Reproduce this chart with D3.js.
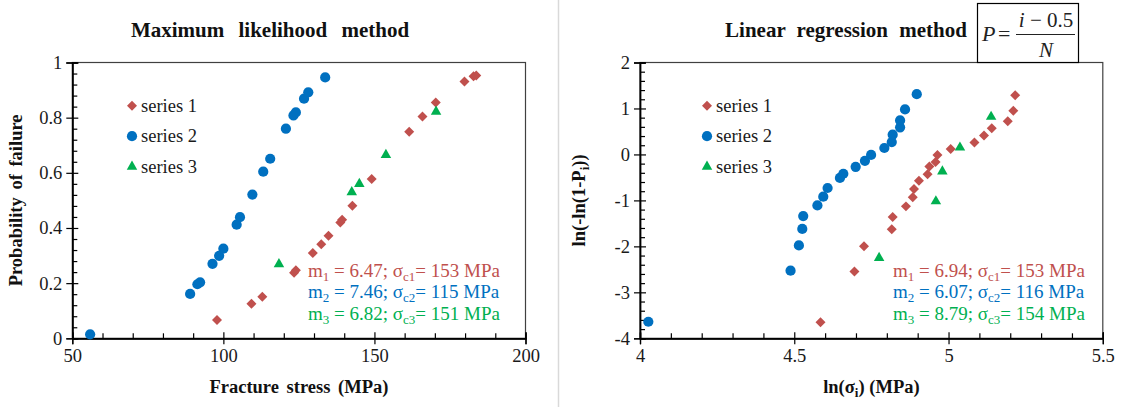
<!DOCTYPE html>
<html><head><meta charset="utf-8">
<script src="https://cdn.jsdelivr.net/npm/d3@7"></script>
<style>
body{margin:0;background:#fff;}
svg{display:block;}
svg text{font-family:"Liberation Serif","Times New Roman",serif !important;}
</style></head>
<body><svg id="c" width="1121" height="407" font-family="Liberation Serif, serif"></svg>
<script>
// ---------- DATA ----------
const seriesNames = ["series 1","series 2","series 3"];
const seriesColors = ["#C0504D","#0070C0","#00B050"];

// Left chart: Maximum likelihood method (stress MPa, probability)
const mlS1x = [97.9,109.3,112.9,123.4,124.0,129.6,132.4,134.8,138.7,139.3,142.7,149.1,161.5,165.9,170.3,179.8,182.8,183.7];
const mlS1y = [0.066,0.125,0.151,0.238,0.247,0.309,0.341,0.372,0.420,0.430,0.481,0.578,0.749,0.804,0.855,0.931,0.950,0.953];
const mlS2x = [55.9,89.0,91.4,92.3,96.4,98.6,100.0,104.4,105.5,109.6,113.2,115.5,120.7,123.2,124.0,126.7,128.1,133.7];
const mlS2y = [0.0145,0.161,0.196,0.203,0.270,0.299,0.325,0.412,0.439,0.521,0.604,0.651,0.760,0.808,0.819,0.869,0.892,0.946];
const mlS3x = [118.4,142.5,145.0,153.8,170.4];
const mlS3y = [0.269,0.530,0.560,0.665,0.822];

// Right chart: Linear regression method (ln stress, ln(-ln(1-P)))
const lrS1x = [4.585,4.695,4.726,4.816,4.819,4.862,4.884,4.888,4.904,4.932,4.938,4.958,4.964,5.007,5.084,5.115,5.140,5.192,5.210,5.216];
const lrS1y = [-3.65,-2.545,-2.00,-1.63,-1.36,-1.13,-0.93,-0.75,-0.57,-0.43,-0.26,-0.165,-0.01,0.12,0.26,0.41,0.57,0.72,0.95,1.29];
const lrS2x = [4.027,4.488,4.515,4.526,4.529,4.575,4.594,4.608,4.648,4.659,4.699,4.729,4.749,4.792,4.816,4.819,4.843,4.843,4.859,4.897];
const lrS2y = [-3.64,-2.53,-1.98,-1.62,-1.34,-1.11,-0.92,-0.73,-0.51,-0.42,-0.27,-0.14,-0.01,0.14,0.27,0.43,0.59,0.74,0.98,1.31];
const lrS3x = [4.775,4.959,4.980,5.037,5.138];
const lrS3y = [-2.25,-1.02,-0.37,0.15,0.82];

// Axis ticks
const mlXTicks = [50,100,150,200];
const mlXMinor = [60,70,80,90,110,120,130,140,160,170,180,190];
const mlYTicks = [0,0.2,0.4,0.6,0.8,1];
const mlYMinor = d3.range(0.04,1,0.04).filter(v=>Math.abs(v/0.2-Math.round(v/0.2))>1e-6);
const lrXTicks = [4,4.5,5,5.5];
const lrXMinor = d3.range(4.1,5.5,0.1).filter(v=>Math.abs(v/0.5-Math.round(v/0.5))>1e-6);
const lrYTicks = [-4,-3,-2,-1,0,1,2];
const lrYMinor = d3.range(-3.8,2,0.2).filter(v=>Math.abs(v-Math.round(v))>1e-6);

const mlNotes = [["1","6.47","1","153"],["2","7.46","2","115"],["3","6.82","3","151"]];
const lrNotes = [["1","6.94","1","153"],["2","6.07","2","116"],["3","8.79","3","154"]];

// ---------- DRAW ----------
const serif = "'Liberation Serif','Times New Roman',serif";
const svg = d3.select("#c");
svg.append("line").attr("x1",558.5).attr("x2",558.5).attr("y1",0).attr("y2",407)
  .attr("stroke","#d9d9d9").attr("stroke-width",1.5);

const plotTop = 62.5, plotBottom = 338.3;
const symDiamond = d3.symbol().type(d3.symbolSquare).size(50);
const symCircle = d3.symbol().type(d3.symbolCircle).size(82);
const symTri = d3.symbol().type(d3.symbolTriangle).size(48);
const syms = [symDiamond, symCircle, symTri];
const rot = [45,0,0];

function panel(opt){
  const x = d3.scaleLinear().domain(opt.xd).range(opt.xr);
  const y = d3.scaleLinear().domain(opt.yd).range([plotBottom, plotTop]);
  const g = svg.append("g");
  g.append("rect").attr("x",opt.xr[0]).attr("y",plotTop).attr("width",opt.xr[1]-opt.xr[0]).attr("height",plotBottom-plotTop)
    .attr("fill","none").attr("stroke","#404040").attr("stroke-width",1.2);
  const fmt = opt.fmt;
  const gx = g.append("g").attr("transform",`translate(0,${plotBottom})`);
  gx.call(d3.axisBottom(x).tickValues(opt.xt).tickSize(6).tickPadding(5).tickFormat(fmt.x));
  const gx2 = g.append("g").attr("transform",`translate(0,${plotBottom})`);
  gx2.call(d3.axisBottom(x).tickValues(opt.xt).tickSize(-6).tickFormat(""));
  const gx3 = g.append("g").attr("transform",`translate(0,${plotBottom})`);
  gx3.call(d3.axisBottom(x).tickValues(opt.xm).tickSize(-5).tickFormat(""));
  const gy = g.append("g").attr("transform",`translate(${opt.xr[0]},0)`);
  gy.call(d3.axisLeft(y).tickValues(opt.yt).tickSize(6).tickPadding(4).tickFormat(fmt.y));
  const gy2 = g.append("g").attr("transform",`translate(${opt.xr[0]},0)`);
  gy2.call(d3.axisLeft(y).tickValues(opt.yt).tickSize(-6).tickFormat(""));
  const gy3 = g.append("g").attr("transform",`translate(${opt.xr[0]},0)`);
  gy3.call(d3.axisLeft(y).tickValues(opt.ym).tickSize(-5).tickFormat(""));
  g.selectAll("g").attr("font-family",serif);
  g.selectAll(".domain").attr("stroke","#000").attr("stroke-width",1.3);
  g.selectAll(".tick line").attr("stroke","#000").attr("stroke-width",1.2);
  g.selectAll(".tick text").attr("font-size",18.5).attr("fill","#1a1a1a").style("font-family",serif);

  opt.series.forEach((s,si)=>{
    g.append("g").selectAll("path").data(d3.zip(s[0],s[1])).join("path")
      .attr("d",syms[si]())
      .attr("transform",d=>`translate(${x(d[0])},${y(d[1])}) rotate(${rot[si]})`)
      .attr("fill",seriesColors[si]);
  });

  const lg = g.append("g");
  seriesNames.forEach((n,i)=>{
    const yy = opt.legY + i*30.5;
    lg.append("path").attr("d",syms[i]()).attr("transform",`translate(${opt.legX},${yy}) rotate(${rot[i]})`).attr("fill",seriesColors[i]);
    lg.append("text").attr("x",opt.legX+9).attr("y",yy+6).attr("font-size",18.5).attr("fill","#1a1a1a").style("font-family",serif).text(n);
  });

  opt.notes.forEach((n,i)=>{
    const t = g.append("text").attr("x",opt.noteX).attr("y",277+i*21.3).attr("font-size",19)
      .attr("fill",seriesColors[i]).style("font-family",serif);
    t.append("tspan").text("m");
    t.append("tspan").attr("font-size",13).attr("dy",4).text(n[0]);
    t.append("tspan").attr("dy",-4).text(` = ${n[1]}; σ`);
    t.append("tspan").attr("font-size",13).attr("dy",4).text("c"+n[2]);
    t.append("tspan").attr("dy",-4).text(`= ${n[3]} MPa`);
  });

  g.append("text").attr("x",opt.titleX).attr("y",37).attr("font-size",21).attr("font-weight","bold")
    .attr("text-anchor","middle").attr("fill","#111").attr("word-spacing",opt.ws).style("font-family",serif).text(opt.title);
  const xl = g.append("text").attr("x",(opt.xr[0]+opt.xr[1])/2).attr("y",393).attr("font-size",18.5)
    .attr("font-weight","bold").attr("text-anchor","middle").attr("fill","#111").style("font-family",serif);
  opt.xlab(xl);
  const yl = g.append("text").attr("transform",`translate(${opt.ylX},${(plotTop+plotBottom)/2}) rotate(-90)`)
    .attr("font-size",18.5).attr("font-weight","bold").attr("text-anchor","middle").attr("fill","#111").style("font-family",serif);
  opt.ylab(yl);
  return {x,y,g};
}

panel({
  xd:[50,200], xr:[72.3,525.5], yd:[0,1],
  xt:mlXTicks, xm:mlXMinor, yt:mlYTicks, ym:mlYMinor,
  fmt:{x:d3.format("d"), y:d=>d===0||d===1?String(d):d3.format(".1f")(d)},
  series:[[mlS1x,mlS1y],[mlS2x,mlS2y],[mlS3x,mlS3y]],
  legX:132, legY:105.7, notes:mlNotes, noteX:308,
  title:"Maximum likelihood method", titleX:270, ws:9,
  xlab:t=>t.text("Fracture stress (MPa)").attr("word-spacing",3),
  ylX:22, ylab:t=>t.text("Probability of failure").attr("word-spacing",3)
});

panel({
  xd:[4,5.5], xr:[640,1102.8], yd:[-4,2],
  xt:lrXTicks, xm:lrXMinor, yt:lrYTicks, ym:lrYMinor,
  fmt:{x:d=>String(d), y:d=>String(d)},
  series:[[lrS1x,lrS1y],[lrS2x,lrS2y],[lrS3x,lrS3y]],
  legX:707, legY:105.7, notes:lrNotes, noteX:893,
  title:"Linear regression method", titleX:846, ws:6,
  xlab:t=>{t.append("tspan").text("ln(σ");t.append("tspan").attr("font-size",13).attr("dy",4).text("i");t.append("tspan").attr("dy",-4).text(") (MPa)");},
  ylX:585, ylab:t=>{t.append("tspan").text("ln(-ln(1-P");t.append("tspan").attr("font-size",13).attr("dy",4).text("i");t.append("tspan").attr("dy",-4).text("))");}
});

const fb = svg.append("g").style("font-family",serif);
fb.append("rect").attr("x",977.5).attr("y",3.5).attr("width",101).attr("height",59).attr("fill","#fff").attr("stroke","#000").attr("stroke-width",1.2);
fb.append("text").attr("x",982).attr("y",41).attr("font-size",22).attr("font-style","italic").attr("fill","#222").text("P");
fb.append("text").attr("x",998).attr("y",41).attr("font-size",22).attr("fill","#222").text("=");
fb.append("line").attr("x1",1016).attr("x2",1075).attr("y1",34.5).attr("y2",34.5).attr("stroke","#222").attr("stroke-width",1);
const num = fb.append("text").attr("x",1046).attr("y",27).attr("font-size",21).attr("text-anchor","middle").attr("fill","#222");
num.append("tspan").attr("font-style","italic").text("i");
num.append("tspan").text(" − 0.5");
fb.append("text").attr("x",1046).attr("y",57).attr("font-size",21).attr("font-style","italic").attr("text-anchor","middle").attr("fill","#222").text("N");
</script></body></html>
